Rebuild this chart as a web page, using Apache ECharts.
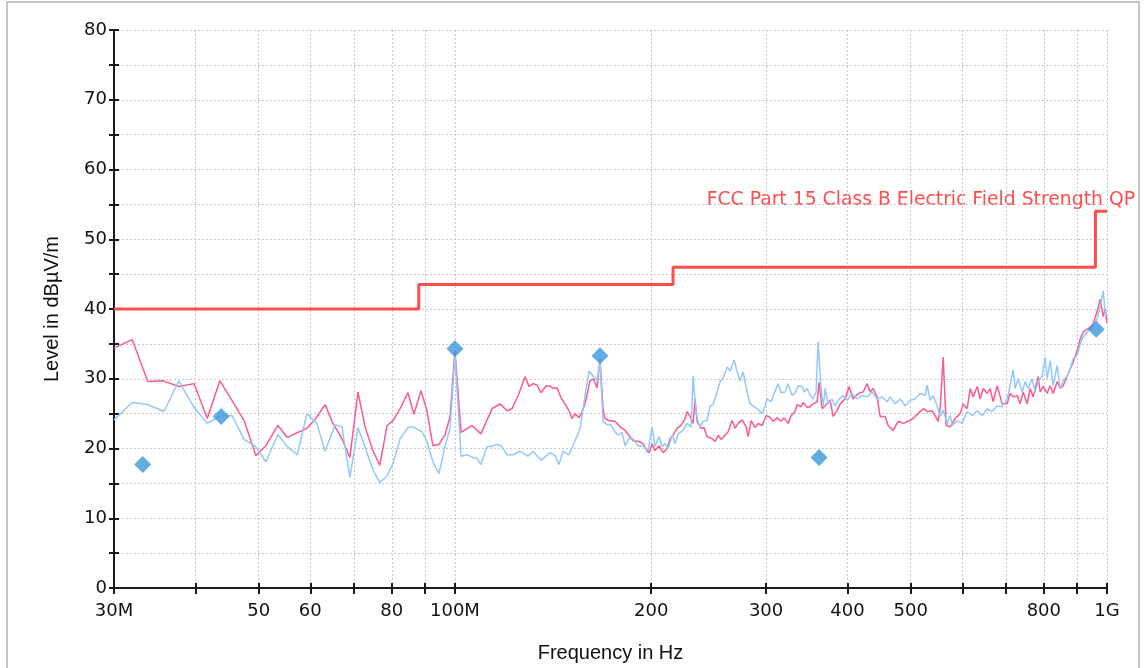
<!DOCTYPE html>
<html>
<head>
<meta charset="utf-8">
<title>Radiated emission scan</title>
<script src="https://cdn.jsdelivr.net/npm/echarts@6/dist/echarts.min.js"></script>
<style>
html, body { margin: 0; padding: 0; background: #fff; }
#chart { width: 1144px; height: 668px; }
</style>
</head>
<body>
<div id="chart"></div>
<script>
// frequencies in MHz, levels in dBuV/m
var tickFreqs = [30, 40, 50, 60, 70, 80, 90, 100, 200, 300, 400, 500, 600, 700, 800, 900, 1000];
var labelFreqs = [30, 50, 60, 80, 100, 200, 300, 400, 500, 800, 1000];
var labelTexts = ['30M', '50', '60', '80', '100M', '200', '300', '400', '500', '800', '1G'];

var limitQP = [[30, 40], [88, 40], [88, 43.5], [216, 43.5], [216, 46], [960, 46], [960, 54], [1000, 54]];

var peaks = [[33.2, 17.7], [43.8, 24.6], [100.0, 34.3], [166.9, 33.3], [361.8, 18.7], [962.5, 37.1]];

var traceH = [
	[30.0, 34.4], [32.0, 35.6], [33.8, 29.6], [35.7, 29.7], [37.7, 28.9], [39.8, 29.3], [41.7, 24.3], [43.6, 29.7],
	[45.7, 26.6], [47.5, 24.0], [49.5, 19.0], [51.3, 20.4], [53.5, 23.3], [55.3, 21.6], [59.3, 22.9], [61.2, 24.3],
	[63.2, 26.3], [65.0, 23.6], [67.1, 21.4], [69.0, 18.7], [71.0, 28.1], [72.8, 23.1], [74.9, 19.6], [76.7, 17.6],
	[78.7, 23.3], [80.4, 24.0], [82.4, 25.7], [84.7, 28.0], [86.5, 24.9], [88.7, 28.3], [90.6, 25.4], [92.5, 20.4],
	[94.5, 20.6], [96.6, 22.0], [98.3, 24.6], [100.0, 34.0], [102.2, 22.3], [106.2, 23.3], [109.6, 22.1], [114.0, 25.7],
	[117.3, 26.4], [120.2, 25.4], [122.3, 25.7], [125.0, 27.6], [128.1, 30.3], [129.9, 28.9], [131.8, 29.3], [133.6, 29.1],
	[135.5, 28.0], [138.0, 29.0], [140.4, 28.9], [141.4, 28.6], [143.4, 28.7], [145.4, 27.3], [147.5, 26.4], [149.6, 25.4],
	[151.2, 24.3], [152.8, 25.0], [155.0, 24.4], [156.7, 25.3], [158.3, 26.4], [161.1, 29.7], [162.9, 30.0], [165.2, 28.7],
	[166.9, 32.8], [168.7, 25.7], [169.9, 24.3], [172.3, 24.0], [176.0, 23.9], [179.2, 23.1], [182.4, 22.6], [184.3, 22.0],
	[187.6, 21.1], [191.6, 21.0], [194.3, 20.7], [197.1, 19.6], [198.5, 19.4], [200.6, 20.7], [202.7, 19.7], [205.6, 20.4],
	[208.5, 19.4], [211.5, 20.0], [213.8, 21.4], [216.0, 21.9], [219.1, 22.9], [222.2, 23.3], [225.4, 24.3], [227.0, 25.3],
	[229.4, 24.6], [231.9, 23.6], [233.5, 27.1], [235.2, 23.9], [238.5, 22.9], [241.0, 23.0], [243.6, 21.7], [248.0, 21.4],
	[250.6, 21.0], [253.3, 21.9], [256.0, 21.3], [259.6, 21.9], [262.4, 22.4], [266.1, 24.0], [268.9, 22.9], [271.8, 23.6],
	[275.7, 24.1], [279.6, 23.1], [281.6, 21.7], [284.6, 24.0], [288.6, 23.0], [291.7, 23.6], [295.9, 23.3], [300.1, 24.7],
	[303.2, 24.6], [307.6, 23.9], [312.0, 24.4], [316.4, 23.9], [319.8, 24.4], [324.3, 23.6], [327.7, 24.7], [332.4, 25.3],
	[334.8, 26.3], [339.5, 26.0], [341.9, 26.6], [346.8, 25.9], [350.5, 26.0], [353.0, 26.3], [359.3, 26.7], [361.8, 29.5],
	[365.7, 25.7], [369.6, 26.1], [376.2, 26.9], [380.2, 24.6], [385.6, 25.4], [389.7, 26.4], [396.6, 27.1], [402.3, 28.9],
	[408.0, 27.1], [415.3, 27.9], [422.7, 28.1], [428.7, 29.3], [433.2, 28.1], [437.9, 28.6], [444.1, 27.4], [448.8, 24.6],
	[456.8, 24.6], [461.7, 23.3], [469.9, 22.6], [478.3, 23.9], [486.8, 23.6], [495.5, 23.9], [504.3, 24.3], [513.3, 25.0],
	[522.4, 25.7], [531.7, 25.3], [539.3, 25.4], [545.0, 24.7], [550.9, 23.9], [554.8, 25.7], [560.7, 33.1], [566.7, 23.3],
	[574.7, 23.1], [584.9, 24.3], [595.4, 25.0], [601.7, 26.4], [610.3, 25.7], [616.8, 28.6], [623.4, 27.4], [632.3, 28.9],
	[639.0, 27.1], [645.8, 28.6], [655.0, 27.9], [661.9, 28.6], [669.0, 26.7], [678.5, 29.0], [690.6, 26.4], [702.9, 26.4],
	[710.4, 27.9], [717.9, 27.4], [728.2, 27.6], [735.9, 26.4], [743.8, 28.1], [754.4, 26.4], [762.4, 28.6], [770.5, 27.4],
	[784.2, 30.3], [789.8, 28.1], [798.2, 28.9], [809.6, 27.9], [818.2, 29.0], [826.9, 27.9], [838.7, 29.6], [847.6, 28.6],
	[856.6, 29.0], [868.8, 30.4], [878.1, 31.4], [887.4, 32.4], [900.1, 34.0], [909.6, 35.7], [919.3, 36.7], [932.5, 37.1],
	[942.3, 37.4], [952.4, 37.9], [966.0, 39.7], [976.2, 41.4], [986.6, 38.9], [993.6, 40.0], [1000, 38.0]
];

var traceV = [
	[30.0, 24.1], [32.0, 26.6], [33.8, 26.3], [35.8, 25.3], [37.7, 29.7], [39.8, 25.9], [41.7, 23.6], [43.8, 24.7],
	[45.5, 24.7], [47.5, 21.3], [49.4, 20.3], [51.3, 18.1], [53.5, 22.0], [55.3, 20.3], [57.3, 19.1], [59.3, 25.0],
	[61.4, 23.6], [63.2, 19.6], [65.5, 23.4], [67.1, 23.1], [69.0, 15.9], [71.0, 23.0], [74.9, 16.9], [76.7, 15.1],
	[78.7, 16.1], [80.4, 17.9], [82.4, 21.4], [84.7, 23.0], [86.2, 23.1], [89.0, 22.4], [90.6, 21.0], [92.5, 18.1],
	[94.5, 16.4], [96.6, 20.4], [98.3, 22.9], [100.0, 33.5], [102.2, 18.9], [104.4, 19.1], [106.6, 18.7], [108.1, 18.6],
	[109.6, 17.7], [112.0, 20.3], [114.0, 20.3], [116.0, 20.6], [117.7, 20.4], [120.2, 19.1], [122.8, 19.1], [125.8, 19.6],
	[129.4, 18.9], [131.8, 19.6], [135.5, 18.3], [139.9, 19.4], [142.4, 19.0], [144.4, 17.7], [146.5, 19.6], [149.6, 19.1],
	[152.8, 21.1], [155.6, 22.9], [158.3, 27.6], [160.6, 31.1], [162.9, 30.4], [165.2, 29.7], [166.9, 32.6], [168.7, 23.9],
	[171.1, 23.4], [173.5, 23.4], [176.0, 22.4], [177.9, 21.9], [180.4, 22.3], [182.4, 20.4], [184.9, 21.4], [187.6, 21.4],
	[190.9, 20.4], [194.3, 20.4], [197.8, 19.6], [200.6, 23.1], [202.7, 20.3], [205.6, 21.7], [207.8, 20.3], [210.0, 20.7],
	[212.3, 20.0], [215.3, 21.9], [217.6, 20.7], [219.9, 22.1], [223.8, 22.6], [227.0, 23.6], [230.2, 23.1], [231.9, 30.4],
	[233.5, 26.7], [235.2, 24.3], [237.7, 23.1], [240.2, 23.9], [243.6, 24.0], [246.2, 26.1], [248.8, 26.3], [252.4, 28.1],
	[255.1, 29.6], [257.8, 30.1], [261.5, 31.7], [264.2, 31.1], [268.0, 32.7], [270.9, 31.0], [273.7, 29.7], [276.6, 31.0],
	[280.6, 28.1], [283.6, 26.4], [286.6, 26.1], [290.7, 25.7], [295.9, 25.0], [299.0, 26.1], [301.1, 27.1], [305.4, 26.7],
	[308.7, 27.9], [313.0, 29.3], [316.4, 28.0], [320.9, 28.1], [324.3, 29.3], [328.9, 27.6], [332.4, 27.9], [336.0, 29.0],
	[340.8, 28.9], [343.2, 28.1], [346.8, 28.6], [350.5, 27.6], [354.2, 27.1], [358.0, 28.1], [360.5, 35.3], [364.4, 28.6],
	[367.0, 26.0], [369.6, 28.6], [373.5, 26.4], [378.9, 27.1], [382.9, 26.1], [388.3, 27.1], [393.8, 27.6], [399.5, 26.9],
	[406.6, 27.9], [413.8, 27.1], [421.2, 27.6], [428.7, 27.4], [436.3, 28.1], [444.1, 27.1], [452.0, 27.4], [460.1, 26.7],
	[464.9, 27.4], [473.2, 26.4], [481.7, 27.1], [490.3, 26.1], [499.0, 26.9], [507.9, 27.1], [516.9, 27.9], [526.1, 27.6],
	[529.9, 29.1], [535.5, 26.9], [541.2, 27.6], [548.9, 26.1], [554.8, 24.6], [560.7, 25.5], [568.7, 23.6], [574.7, 24.8],
	[578.8, 23.3], [589.1, 24.0], [599.6, 23.6], [610.3, 25.3], [621.2, 24.7], [632.3, 25.4], [643.5, 24.7], [655.0, 25.7],
	[666.6, 25.3], [678.5, 26.1], [690.6, 26.0], [702.9, 27.1], [710.4, 29.0], [717.9, 31.3], [723.0, 28.6], [730.7, 30.0],
	[741.2, 28.1], [749.0, 29.6], [757.0, 28.6], [767.8, 30.0], [775.9, 28.1], [784.2, 29.6], [795.4, 30.4], [803.8, 33.1],
	[809.6, 30.0], [818.2, 32.6], [826.9, 29.0], [838.7, 31.9], [847.6, 28.6], [856.6, 29.7], [868.8, 30.4], [878.1, 31.4],
	[887.4, 32.9], [900.1, 33.3], [909.6, 35.0], [919.3, 36.0], [932.5, 36.7], [942.3, 37.1], [952.4, 37.6], [966.0, 38.6],
	[976.2, 40.4], [986.6, 42.6], [993.6, 39.3], [1000, 39.0]
];

// the x axis is a plain value axis on log10(MHz)
function lg(f) {
	return Math.log10(f);
}

function toLog(list) {
	return list.map(function (p) { return [lg(p[0]), p[1]]; });
}

function freqLabel(v) {
	var f = Math.pow(10, v);
	for (var i = 0; i < labelFreqs.length; i++) {
		if (Math.abs(labelFreqs[i] - f) / labelFreqs[i] < 0.001) return labelTexts[i];
	}
	return '';
}

var axisColor = '#1a1a1a';
var gridLine = { show: true, lineStyle: { color: '#c6c6c6', width: 1, type: [2, 2] } };

var chart = echarts.init(document.getElementById('chart'), null, { renderer: 'canvas' });

var option = {
	animation: false,
	backgroundColor: '#fff',
	grid: { left: 114, right: 37, top: 30, bottom: 78 },
	xAxis: [
		{
			type: 'value',
			min: lg(30),
			max: lg(1000),
			axisLine: { lineStyle: { color: axisColor, width: 2 } },
			axisTick: { customValues: tickFreqs.map(lg), length: 6, lineStyle: { color: axisColor, width: 2 } },
			axisLabel: {
				customValues: labelFreqs.map(lg),
				formatter: freqLabel,
				fontFamily: 'DejaVu Sans',
				fontSize: 18,
				color: '#111',
				margin: 14
			},
			splitLine: gridLine,
			name: 'Frequency in Hz',
			nameLocation: 'middle',
			nameGap: 55,
			nameTextStyle: { fontFamily: 'Liberation Sans', fontSize: 20, color: '#111' }
		},
		{
			type: 'value',
			position: 'bottom',
			min: lg(30),
			max: lg(1000),
			axisLine: { show: false },
			axisTick: { inside: true, customValues: tickFreqs.map(lg), length: 5, lineStyle: { color: axisColor, width: 2 } },
			axisLabel: { show: false },
			splitLine: { show: false }
		}
	],
	yAxis: [
		{
			type: 'value',
			min: 0,
			max: 80,
			interval: 5,
			axisLine: { show: true, lineStyle: { color: axisColor, width: 2 } },
			axisTick: { show: true, length: 5, lineStyle: { color: axisColor, width: 2 } },
			axisLabel: {
				formatter: function (v) { return v % 10 === 0 ? String(v) : ''; },
				fontFamily: 'DejaVu Sans',
				fontSize: 18,
				color: '#111',
				margin: 7
			},
			splitLine: gridLine,
			name: 'Level in dBµV/m',
			nameLocation: 'middle',
			nameGap: 52,
			nameTextStyle: { fontFamily: 'Liberation Sans', fontSize: 20, color: '#111' }
		},
		{
			type: 'value',
			position: 'left',
			min: 0,
			max: 80,
			interval: 5,
			axisLine: { show: false },
			axisTick: { show: true, inside: true, length: 5, lineStyle: { color: axisColor, width: 2 } },
			axisLabel: { show: false },
			splitLine: { show: false }
		}
	],
	graphic: [
		{
			type: 'rect',
			silent: true,
			shape: { x: 7, y: 2, width: 1132, height: 700 },
			style: { fill: 'none', stroke: '#b4b4b4', lineWidth: 1.5 }
		},
		{
			type: 'text',
			right: 9,
			top: 191,
			style: {
				text: 'FCC Part 15 Class B Electric Field Strength QP',
				fill: '#ff4d4d',
				font: '18.8px "DejaVu Sans"'
			}
		}
	],
	series: [
		{
			name: 'Horizontal',
			type: 'line',
			data: toLog(traceH),
			showSymbol: false,
			lineStyle: { color: '#fa5a8c', width: 1.5 },
			z: 3
		},
		{
			name: 'Vertical',
			type: 'line',
			data: toLog(traceV),
			showSymbol: false,
			lineStyle: { color: '#92c8fb', width: 1.5 },
			z: 4
		},
		{
			name: 'FCC QP limit',
			type: 'line',
			data: toLog(limitQP),
			showSymbol: false,
			lineStyle: { color: '#ff4d4d', width: 3 },
			z: 5
		},
		{
			name: 'Final QP',
			type: 'scatter',
			data: toLog(peaks),
			symbol: 'diamond',
			symbolSize: 17,
			itemStyle: { color: '#3b97dd' },
			z: 6
		}
	]
};

chart.setOption(option);
</script>
</body>
</html>
